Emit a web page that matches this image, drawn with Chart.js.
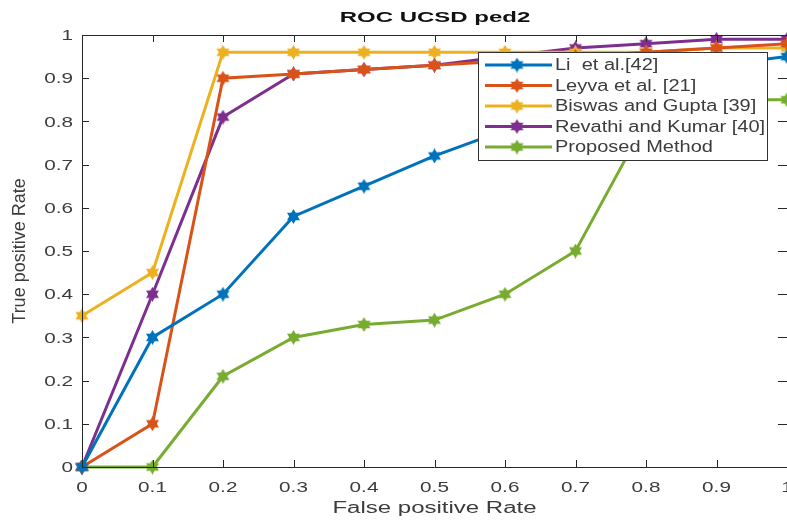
<!DOCTYPE html>
<html>
<head>
<meta charset="utf-8">
<script src="https://cdn.jsdelivr.net/npm/chart.js@4.4.1/dist/chart.umd.min.js"></script>
<style>
  html, body { margin: 0; padding: 0; background: #fff; }
  #wrap { width: 787px; height: 525px; }
</style>
</head>
<body>
<div id="wrap"><canvas id="roc"></canvas></div>
<script>
/* ROC curve data */
const fpr = [0, 0.1, 0.2, 0.3, 0.4, 0.5, 0.6, 0.7, 0.8, 0.9, 1];
const liEtAl = [0, 0.30, 0.40, 0.58, 0.65, 0.72, 0.78, 0.85, 0.90, 0.93, 0.95];
const leyva = [0, 0.10, 0.90, 0.91, 0.92, 0.93, 0.94, 0.95, 0.96, 0.97, 0.98];
const biswas = [0.35, 0.45, 0.96, 0.96, 0.96, 0.96, 0.96, 0.96, 0.96, 0.97, 0.97];
const revathi = [0, 0.40, 0.81, 0.91, 0.92, 0.93, 0.95, 0.97, 0.98, 0.99, 0.99];
const proposed = [0, 0, 0.21, 0.30, 0.33, 0.34, 0.40, 0.50, 0.80, 0.85, 0.85];
const seriesNames = ['Li  et al.[42]', 'Leyva et al. [21]', 'Biswas and Gupta [39]', 'Revathi and Kumar [40]', 'Proposed Method'];
const seriesColors = ['#0072BD', '#D95319', '#EDB120', '#7E2F8E', '#77AC30'];
const axisTicks = [0, 0.1, 0.2, 0.3, 0.4, 0.5, 0.6, 0.7, 0.8, 0.9, 1];

const FONT = 'Arial, "Liberation Sans", Helvetica, sans-serif';
const TEXT = '#3c3c3c';

/* hexagram marker like matlab 'h' */
function hexagram(color, size) {
    const c = document.createElement('canvas');
    c.width = size; c.height = size;
    const g = c.getContext('2d');
    const r = size / 2, cx = r, cy = r;
    g.fillStyle = color;
    for (const off of [-Math.PI / 2, Math.PI / 2]) {
        g.beginPath();
        for (let i = 0; i < 3; i++) {
            const a = off + i * 2 * Math.PI / 3;
            const x = cx + r * Math.cos(a), y = cy + r * Math.sin(a);
            i ? g.lineTo(x, y) : g.moveTo(x, y);
        }
        g.closePath();
        g.fill();
    }
    return c;
}

/* the source image is stretched sideways, so text is too */
function wideText(ctx, text, x, y, sx, align) {
    const w = ctx.measureText(text).width * sx;
    let left = x;
    if (align === 'center') left = x - w / 2;
    else if (align === 'right') left = x - w;
    ctx.save();
    ctx.translate(left, y);
    ctx.scale(sx, 1);
    ctx.textAlign = 'left';
    ctx.fillText(text, 0, 0);
    ctx.restore();
}

const fmt = v => String(+v.toFixed(1));

const allSeries = [liEtAl, leyva, biswas, revathi, proposed];
const markers = seriesColors.map(c => hexagram(c, 15));

const datasets = allSeries.map((vals, i) => ({
    label: seriesNames[i],
    data: fpr.map((x, j) => ({ x: x, y: vals[j] })),
    borderColor: seriesColors[i],
    backgroundColor: seriesColors[i],
    borderWidth: 3,
    pointStyle: markers[i],
    pointRadius: 7,
    tension: 0,
    clip: 8,
}));

/* box, inward ticks, labels, title and legend drawn like the matlab figure */
const matlabFrame = {
    id: 'matlabFrame',
    afterDatasetsDraw(chart) {
        const { ctx, chartArea: a, scales } = chart;
        ctx.save();
        ctx.strokeStyle = '#262626';
        ctx.lineWidth = 1;
        ctx.beginPath();
        ctx.moveTo(a.left + 0.5, a.bottom + 0.5);
        ctx.lineTo(a.left + 0.5, a.top + 0.5);
        ctx.lineTo(a.right, a.top + 0.5);
        ctx.moveTo(a.left, a.bottom + 0.5);
        ctx.lineTo(a.right, a.bottom + 0.5);
        axisTicks.forEach(v => {
            const px = Math.round(scales.x.getPixelForValue(v)) + 0.5;
            ctx.moveTo(px, a.bottom); ctx.lineTo(px, a.bottom - 7);
            ctx.moveTo(px, a.top); ctx.lineTo(px, a.top + 7);
            const py = Math.round(scales.y.getPixelForValue(v)) + 0.5;
            ctx.moveTo(a.left, py); ctx.lineTo(a.left + 7, py);
            ctx.moveTo(a.right, py); ctx.lineTo(a.right - 9, py);
        });
        ctx.stroke();

        // tick labels
        ctx.fillStyle = TEXT;
        ctx.font = '15px ' + FONT;
        ctx.textBaseline = 'middle';
        axisTicks.forEach(v => {
            wideText(ctx, fmt(v), scales.x.getPixelForValue(v), a.bottom + 21, 1.38, 'center');
            wideText(ctx, fmt(v), a.left - 9, scales.y.getPixelForValue(v) + 1, 1.38, 'right');
        });

        // axis titles
        ctx.font = '16px ' + FONT;
        wideText(ctx, 'False positive Rate', (a.left + a.right) / 2, 509, 1.5, 'center');
        ctx.save();
        ctx.translate(20, (a.top + a.bottom) / 2);
        ctx.rotate(-Math.PI / 2);
        ctx.font = '18px ' + FONT;
        ctx.textAlign = 'center';
        ctx.fillText('True positive Rate', 0, 0);
        ctx.restore();

        // title
        ctx.fillStyle = '#111';
        ctx.font = 'bold 15px ' + FONT;
        wideText(ctx, 'ROC UCSD ped2', 435, 18, 1.6, 'center');

        // legend
        const lx = 478, ly = 52, lw = 289, lh = 108, row = 20.5;
        ctx.fillStyle = '#fff';
        ctx.fillRect(lx, ly, lw, lh);
        ctx.strokeStyle = '#333';
        ctx.lineWidth = 1;
        ctx.strokeRect(lx + 0.5, ly + 0.5, lw, lh);
        ctx.font = '16px ' + FONT;
        chart.data.datasets.forEach((ds, i) => {
            const y = ly + 13 + i * row;
            ctx.strokeStyle = ds.borderColor;
            ctx.lineWidth = 3;
            ctx.beginPath();
            ctx.moveTo(lx + 7, y);
            ctx.lineTo(lx + 74, y);
            ctx.stroke();
            ctx.drawImage(markers[i], lx + 39 - 7.5, y - 7.5);
            ctx.fillStyle = TEXT;
            wideText(ctx, ds.label, lx + 77, y + 1, 1.25, 'left');
        });
        ctx.restore();
    }
};

new Chart(document.getElementById('roc'), {
    type: 'line',
    data: { datasets },
    options: {
        responsive: true,
        maintainAspectRatio: false,
        animation: false,
        layout: { padding: { top: 35, right: 0, left: 0, bottom: 0 }, autoPadding: false },
        plugins: { legend: { display: false }, title: { display: false }, tooltip: { enabled: false } },
        scales: {
            x: {
                type: 'linear',
                min: 0, max: 1,
                grid: { display: false },
                border: { display: false },
                ticks: { display: false },
                afterFit: s => { s.height = 58; s.paddingLeft = 0; s.paddingRight = 0; },
            },
            y: {
                type: 'linear',
                min: 0, max: 1,
                grid: { display: false },
                border: { display: false },
                ticks: { display: false },
                afterFit: s => { s.width = 82; },
            },
        },
    },
    plugins: [matlabFrame],
});
</script>
</body>
</html>
